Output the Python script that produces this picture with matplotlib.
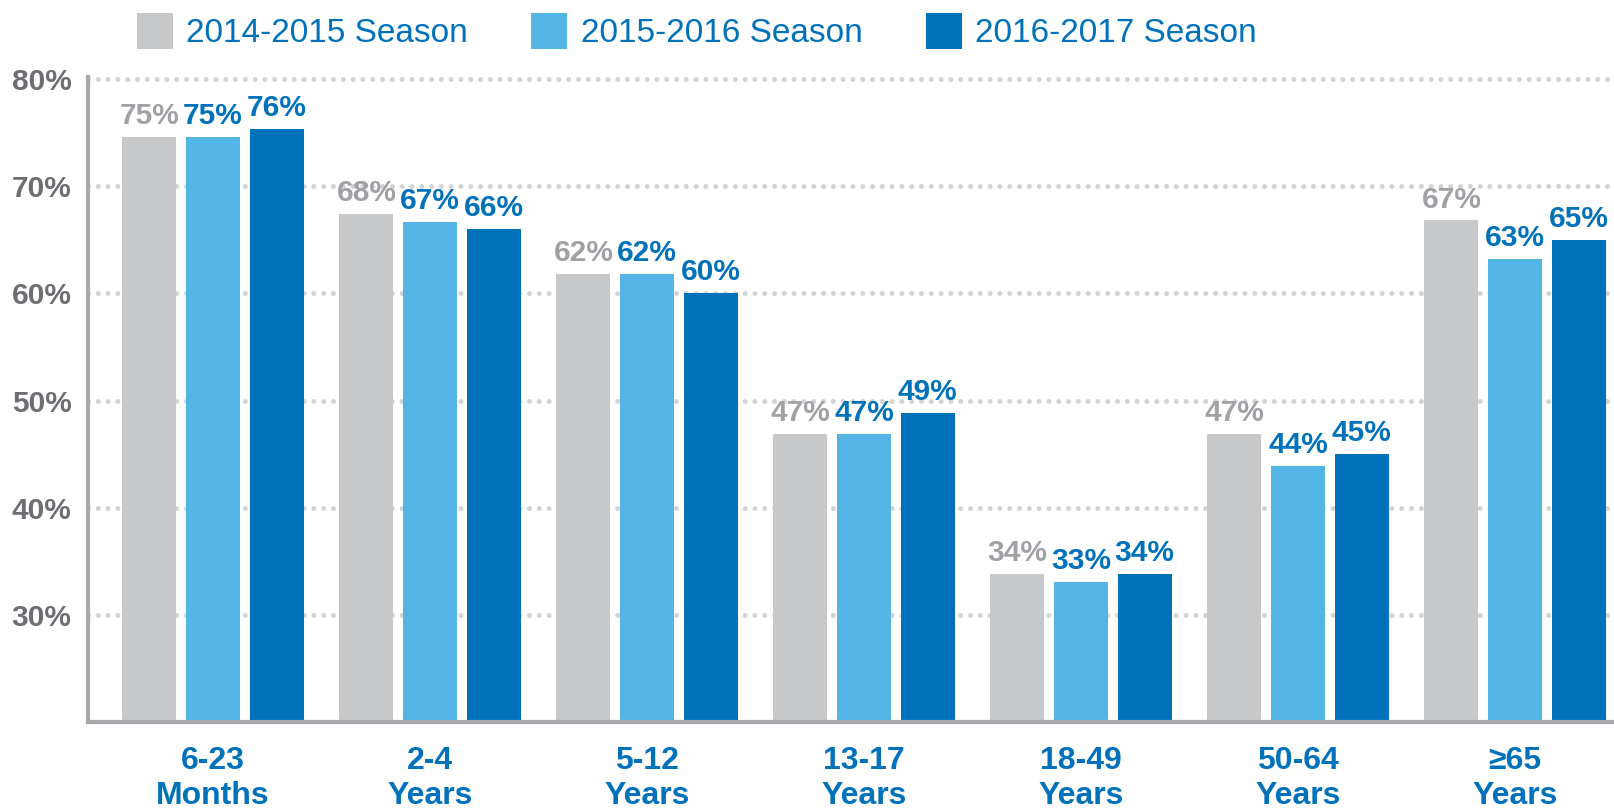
import matplotlib
matplotlib.use("Agg")
import matplotlib.pyplot as plt
import numpy as np

# age groups and the three seasons (bar heights, labels as printed)
groups = ["6-23\nMonths", "2-4\nYears", "5-12\nYears", "13-17\nYears",
          "18-49\nYears", "50-64\nYears", "\u226565\nYears"]
seasons = ["2014-2015 Season", "2015-2016 Season", "2016-2017 Season"]

s2014 = [74.6, 67.4, 61.8, 46.9, 33.8, 46.9, 66.8]
s2015 = [74.6, 66.7, 61.8, 46.9, 33.1, 43.9, 63.2]
s2016 = [75.3, 66.0, 60.0, 48.8, 33.8, 45.0, 65.0]

lab2014 = [75, 68, 62, 47, 34, 47, 67]
lab2015 = [75, 67, 62, 47, 33, 44, 63]
lab2016 = [76, 66, 60, 49, 34, 45, 65]

yticks = [30, 40, 50, 60, 70, 80]

colors = {
    "gray": "#c7c8ca",
    "light": "#52b5e6",
    "dark": "#0071bb",
    "gray_text": "#9fa1a4",
    "axis_text": "#6d6e71",
    "spine": "#a7a9ac",
    "grid": "#d1d3d4",
}

REG = ["Liberation Sans", "DejaVu Sans"]

fig = plt.figure(figsize=(16.14, 8.09), dpi=100)
ax = fig.add_axes([88 / 1614, 0.1075, 1 - 88 / 1614, 0.7975])

x = np.arange(len(groups))
pitch = 0.293
width = 0.249

series = [
    (s2014, lab2014, colors["gray"], colors["gray_text"]),
    (s2015, lab2015, colors["light"], colors["dark"]),
    (s2016, lab2016, colors["dark"], colors["dark"]),
]

handles = []
for k, (vals, labs, fc, tc) in enumerate(series):
    bars = ax.bar(x + (k - 1) * pitch, np.array(vals) - 20, width, bottom=20,
                  color=fc, zorder=2, label=seasons[k])
    handles.append(bars)
    ax.bar_label(bars, labels=[f"{v}%" for v in labs], padding=5,
                 color=tc, fontsize=21.5, fontweight="bold", family=REG)

ax.set_xlim(-0.576, 6.456)
ax.set_ylim(20, 80.2)

ax.set_yticks(yticks)
ax.set_yticklabels([f"{v}%" for v in yticks], fontsize=21.5, fontweight="bold",
                   color=colors["axis_text"], family=REG)
ax.set_xticks(x)
ax.set_xticklabels(groups, fontsize=23, fontweight="bold", color=colors["dark"],
                   family=REG, linespacing=1.22)
ax.tick_params(axis="both", length=0)
ax.tick_params(axis="y", pad=12)
ax.tick_params(axis="x", pad=17)

ax.set_axisbelow(True)
ax.yaxis.grid(True, color=colors["grid"], linewidth=3.6,
              linestyle=(0, (0.01, 1.95)))
for ln in ax.get_ygridlines():
    ln.set_dash_capstyle("round")

for side in ["top", "right"]:
    ax.spines[side].set_visible(False)
for side in ["left", "bottom"]:
    ax.spines[side].set_color(colors["spine"])
    ax.spines[side].set_linewidth(3)

leg = fig.legend(handles=handles, labels=seasons, loc="center left",
                 bbox_to_anchor=(137 / 1614, 1 - 31 / 809), ncol=3, frameon=False,
                 prop={"family": REG, "size": 24}, handlelength=1.08,
                 handleheight=1.3, handletextpad=0.4, columnspacing=1.9,
                 borderpad=0, borderaxespad=0)
for t in leg.get_texts():
    t.set_color(colors["dark"])

fig.savefig("out.png", dpi=100)
